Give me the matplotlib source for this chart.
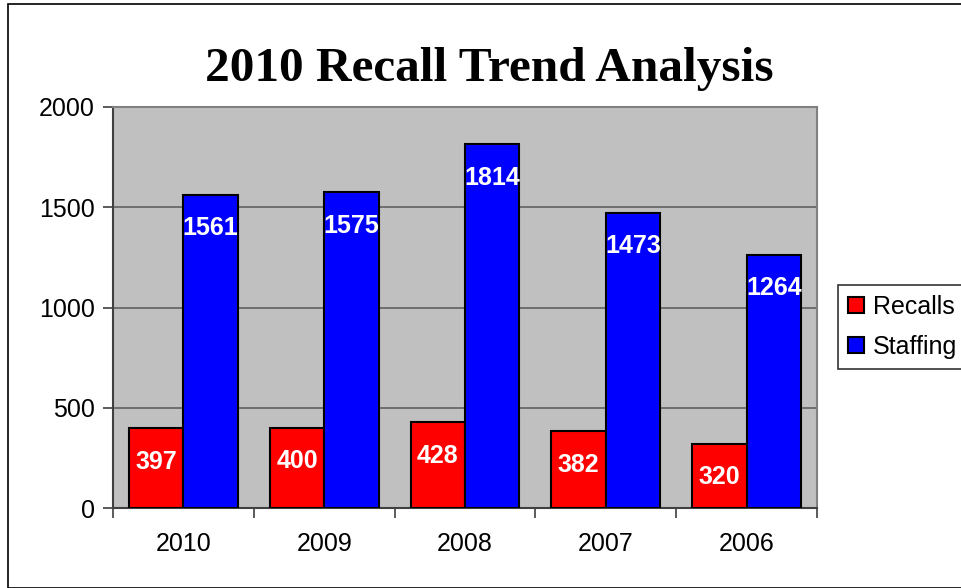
import numpy as np
import matplotlib.pyplot as plt
from matplotlib.patches import Rectangle

# data
years = ["2010", "2009", "2008", "2007", "2006"]
recalls = [397, 400, 428, 382, 320]
staffing = [1561, 1575, 1814, 1473, 1264]

plt.rcParams['font.family'] = ['Liberation Sans', 'DejaVu Sans']

W, H = 962, 588
fig = plt.figure(figsize=(W / 100, H / 100), dpi=100)

# outer chart border
fig.patches.append(Rectangle((8 / W, 0), 1.2, (H - 4) / H, transform=fig.transFigure,
                             fill=False, edgecolor='black', linewidth=1.2))

ax = fig.add_axes([113 / W, 1 - 508 / H, (817 - 113) / W, (508 - 107) / H])
ax.set_facecolor('#c0c0c0')

x = np.arange(len(years))
bw = 0.386
b1 = ax.bar(x - bw / 2, recalls, bw, color='#ff0000', edgecolor='black', linewidth=1.5,
            label='Recalls', zorder=3)
b2 = ax.bar(x + bw / 2, staffing, bw, color='#0000ff', edgecolor='black', linewidth=1.5,
            label='Staffing', zorder=3)

for bars, vals in ((b1, recalls), (b2, staffing)):
    for r, v in zip(bars, vals):
        ax.annotate(str(v), (r.get_x() + r.get_width() / 2, v), xytext=(0, -24),
                    textcoords='offset points', ha='center', va='center',
                    color='white', fontsize=18, fontweight='bold', zorder=4)

ax.set_xlim(-0.5, len(years) - 0.5)
ax.set_ylim(0, 2000)
ax.set_yticks([0, 500, 1000, 1500, 2000])
ax.yaxis.grid(True, color='#606060', linewidth=1.2, zorder=1)
ax.set_axisbelow(True)

ax.set_xticks(np.arange(-0.5, len(years)), minor=False)
ax.set_xticklabels([])
ax.set_xticks(x, minor=True)
ax.set_xticklabels(years, minor=True)
ax.tick_params(axis='x', which='minor', length=0, pad=17, labelsize=18)
ax.tick_params(axis='x', which='major', length=7, width=1.2, color='#404040', direction='out')
ax.tick_params(axis='y', length=7, width=1.2, color='#404040', direction='out',
               labelsize=18, pad=6)

for s in ('left', 'bottom'):
    ax.spines[s].set_color('#404040')
    ax.spines[s].set_linewidth(1.5)
for s in ('top', 'right'):
    ax.spines[s].set_color('#808080')
    ax.spines[s].set_linewidth(1.5)

fig.text(489.5 / W, 1 - 81 / H, "2010 Recall Trend Analysis", ha='center', va='baseline',
         fontsize=35.5, fontweight='bold', family=['Liberation Serif', 'DejaVu Serif'])

leg = fig.legend(handles=[b1, b2], loc='upper left', bbox_to_anchor=(838 / W, 1 - 285 / H),
                 fontsize=18, frameon=True, fancybox=False, edgecolor='black',
                 handlelength=0.64, handleheight=0.64, handletextpad=0.36,
                 labelspacing=0.64, borderpad=0.4, borderaxespad=0)
leg.get_frame().set_linewidth(1.2)

fig.savefig("out.png", dpi=100)
